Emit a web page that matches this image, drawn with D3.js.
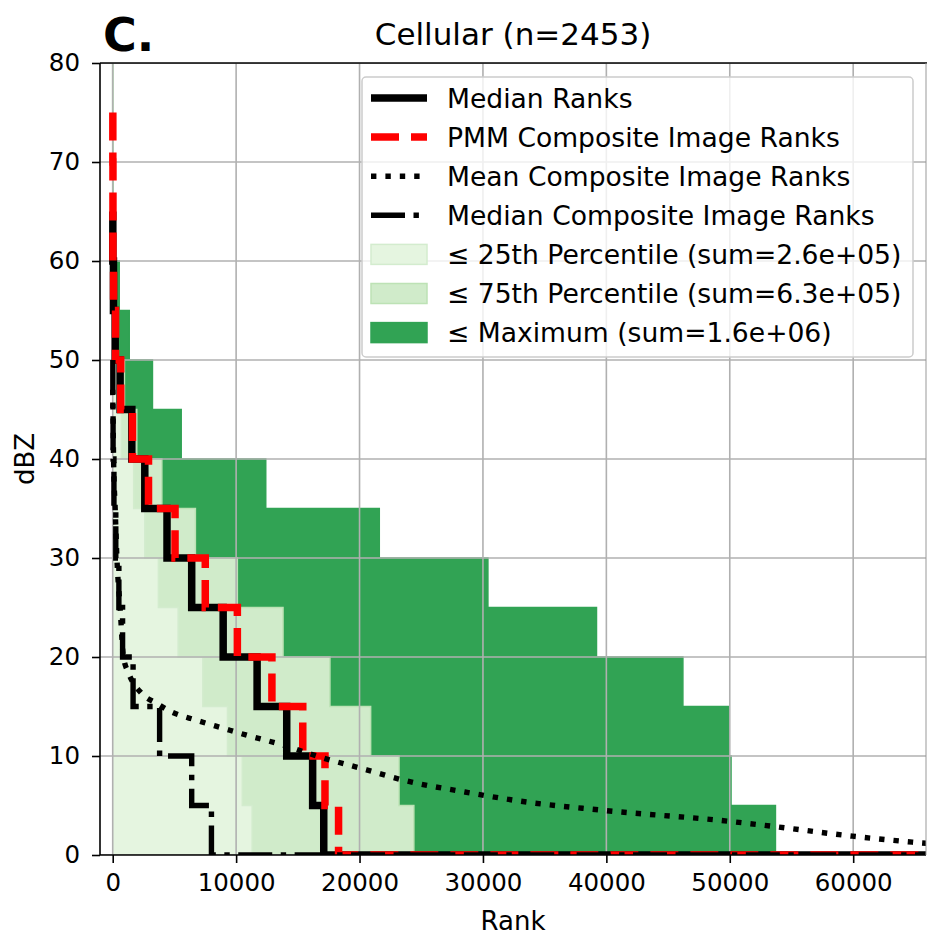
<!DOCTYPE html>
<html>
<head>
<meta charset="utf-8">
<script src="https://cdn.jsdelivr.net/npm/d3@7"></script>
<style>
body { margin: 0; background: #ffffff; }
svg { display: block; font-family: "DejaVu Sans", sans-serif; }
</style>
</head>
<body>
<script>
//dBZ bins, lower edge of each 5 dBZ bin
var binLow = [0, 5, 10, 15, 20, 25, 30, 35, 40, 45, 50, 55, 60, 65, 70, 75];
var binWidth = 5;

//shaded rank ranges per bin
var p25Ranks = [11300, 10500, 9300, 7300, 5300, 3700, 2600, 1700, 700, 350, 100, 30, 0, 0, 0, 0];
var p75Ranks = [24400, 23200, 20900, 17600, 13800, 10100, 6700, 3980, 1950, 950, 350, 100, 0, 0, 0, 0];
var maxRanks = [53700, 50100, 49900, 46200, 39200, 30400, 21600, 12400, 5550, 3220, 1340, 530, 80, 40, 20, 0];

//step lines, one value per bin starting at 0 dBZ
var medianRanks = [17100, 16200, 14100, 11700, 8950, 6400, 4400, 2600, 1550, 600, 200, 60, 10];
var pmmRanks = [18300, 17200, 15400, 12900, 10100, 7500, 5050, 2900, 1600, 650, 230, 70, 20, 20, 10];
var medianCompRanks = [8000, 6400, 3800, 1650, 800, 500, 250, 100, 30, 10];
var tailRank = 70000; //lines run off along 0 dBZ

//mean composite image ranks (smooth curve)
var meanRank = [0, 30, 70, 200, 340, 600, 870, 1280, 2360, 3580, 4520, 6810, 8960, 10860, 13820, 16790, 20570, 24070, 28380, 33240, 39850, 49960, 53460, 59940, 64790, 70000];
var meanDbz = [47, 44, 40, 35, 30, 25, 20, 18.4, 16.3, 15.3, 14.6, 13.6, 12.8, 12.1, 11.1, 9.9, 8.6, 7.4, 6.4, 5.4, 4.5, 3.4, 2.9, 1.9, 1.3, 0.8];

var xTicks = [0, 10000, 20000, 30000, 40000, 50000, 60000];
var yTicks = [0, 10, 20, 30, 40, 50, 60, 70, 80];

var legendLabels = [
    "Median Ranks",
    "PMM Composite Image Ranks",
    "Mean Composite Image Ranks",
    "Median Composite Image Ranks",
    "\u2264 25th Percentile (sum=2.6e+05)",
    "\u2264 75th Percentile (sum=6.3e+05)",
    "\u2264 Maximum (sum=1.6e+06)"
];

//svg size and axes box
var w = 927, h = 935;
var pLeft = 100, pRight = 926, pTop = 63, pBottom = 855;

var svg = d3.select("body")
    .append("svg")
    .attr("width", w)
    .attr("height", h);

var x = d3.scaleLinear()
    .domain([-1030, 65900])
    .range([pLeft, pRight]);

var y = d3.scaleLinear()
    .domain([0, 80])
    .range([pBottom, pTop]);

//clip to the axes box
svg.append("clipPath")
    .attr("id", "plotClip")
    .append("rect")
    .attr("x", pLeft)
    .attr("y", pTop)
    .attr("width", pRight - pLeft)
    .attr("height", pBottom - pTop);

var plot = svg.append("g")
    .attr("clip-path", "url(#plotClip)");

//stepped outline points, from the top bin down to 0 dBZ
function stepPoints(values){
    var pts = [];
    for (var i = values.length - 1; i >= 0; i--){
        pts.push([values[i], binLow[i] + binWidth]);
        pts.push([values[i], binLow[i]]);
    }
    return pts;
}

var area = d3.area()
    .y(function(d){ return y(d[1]); })
    .x0(x(0))
    .x1(function(d){ return x(d[0]); });

var line = d3.line()
    .x(function(d){ return x(d[0]); })
    .y(function(d){ return y(d[1]); });

var smoothLine = d3.line()
    .x(function(d){ return x(d[0]); })
    .y(function(d){ return y(d[1]); })
    .curve(d3.curveMonotoneX);

//shaded bands: maximum, 75th, 25th
var bands = [
    {values: maxRanks, fill: "#31a354", edge: "#31a354"},
    {values: p75Ranks, fill: "#d0ebca", edge: "#bde2b5"},
    {values: p25Ranks, fill: "#e5f5e0", edge: "#d3ecce"}
];

bands.forEach(function(b){
    var pts = stepPoints(b.values);
    plot.append("path")
        .attr("d", area(pts))
        .style("fill", b.fill);
    plot.append("path")
        .attr("d", line(pts))
        .style("fill", "none")
        .style("stroke", b.edge)
        .style("stroke-width", 1.5);
});

//grid
plot.selectAll(".gridX")
    .data(xTicks)
    .enter()
    .append("line")
    .attr("class", "gridX")
    .attr("x1", function(d){ return x(d); })
    .attr("x2", function(d){ return x(d); })
    .attr("y1", pTop)
    .attr("y2", pBottom)
    .style("stroke", "#b0b0b0")
    .style("stroke-width", 1.6);

plot.selectAll(".gridY")
    .data(yTicks)
    .enter()
    .append("line")
    .attr("class", "gridY")
    .attr("x1", pLeft)
    .attr("x2", pRight)
    .attr("y1", function(d){ return y(d); })
    .attr("y2", function(d){ return y(d); })
    .style("stroke", "#b0b0b0")
    .style("stroke-width", 1.6);

//line styles
var styles = [
    {color: "#000", width: 7.5, dash: null},
    {color: "#ff0000", width: 7.5, dash: "28,12"},
    {color: "#000", width: 5.4, dash: "5.4,9"},
    {color: "#000", width: 5.4, dash: "34,8.5,5.4,8.5"}
];

function stepLine(values){
    var pts = stepPoints(values);
    pts.push([tailRank, 0]);
    return line(pts);
}

var curves = [
    stepLine(medianRanks),
    stepLine(pmmRanks),
    smoothLine(meanRank.map(function(r, i){ return [r, meanDbz[i]]; })),
    stepLine(medianCompRanks)
];

curves.forEach(function(d, i){
    plot.append("path")
        .attr("d", d)
        .style("fill", "none")
        .style("stroke", styles[i].color)
        .style("stroke-width", styles[i].width)
        .style("stroke-dasharray", styles[i].dash);
});

//axes
var xAxis = svg.append("g")
    .attr("transform", "translate(0," + pBottom + ")")
    .call(d3.axisBottom(x).tickValues(xTicks).tickSize(8).tickPadding(11).tickFormat(d3.format("d")));

var yAxis = svg.append("g")
    .attr("transform", "translate(" + pLeft + ",0)")
    .call(d3.axisLeft(y).tickValues(yTicks).tickSize(8).tickPadding(12));

[xAxis, yAxis].forEach(function(a){
    a.select(".domain").remove();
    a.selectAll(".tick line")
        .style("stroke", "#000")
        .style("stroke-width", 1.6);
    a.selectAll(".tick text")
        .style("font-family", "DejaVu Sans")
        .style("font-size", "24.5px")
        .style("fill", "#000");
});

//spines
var spines = [
    [pLeft, pTop, pLeft, pBottom],
    [pLeft, pBottom, pRight, pBottom],
    [pLeft, pTop, w, pTop],
    [pRight, pTop, pRight, pBottom]
];
svg.selectAll(".spine")
    .data(spines)
    .enter()
    .append("line")
    .attr("class", "spine")
    .attr("x1", function(d){ return d[0]; })
    .attr("y1", function(d){ return d[1]; })
    .attr("x2", function(d){ return d[2]; })
    .attr("y2", function(d){ return d[3]; })
    .style("stroke", function(d, i){ return i == 3 ? "#999" : "#000"; })
    .style("stroke-width", function(d, i){ return i == 3 ? 1 : 1.6; });

//legend
var legend = svg.append("g")
    .attr("class", "legend");

legend.append("rect")
    .attr("x", 362)
    .attr("y", 77)
    .attr("width", 551)
    .attr("height", 280)
    .attr("rx", 4)
    .style("fill", "#fff")
    .style("fill-opacity", 0.8)
    .style("stroke", "#cccccc")
    .style("stroke-width", 1.5);

var rowY = function(i){ return 98 + i * 39.1; };

legendLabels.forEach(function(label, i){
    if (i < 4){
        legend.append("line")
            .attr("x1", 371)
            .attr("x2", 427)
            .attr("y1", rowY(i))
            .attr("y2", rowY(i))
            .style("stroke", styles[i].color)
            .style("stroke-width", styles[i].width)
            .style("stroke-dasharray", styles[i].dash);
    } else {
        var b = bands[6 - i];
        legend.append("rect")
            .attr("x", 371)
            .attr("y", rowY(i) - 10)
            .attr("width", 56)
            .attr("height", 20)
            .style("fill", b.fill)
            .style("stroke", b.edge)
            .style("stroke-width", 1.5);
    }
    legend.append("text")
        .attr("x", 447)
        .attr("y", rowY(i) + 9.5)
        .style("font-size", "26.6px")
        .text(label);
});

//titles
svg.append("text")
    .attr("x", (pLeft + pRight) / 2)
    .attr("y", 45)
    .attr("text-anchor", "middle")
    .style("font-size", "31px")
    .text("Cellular (n=2453)");

svg.append("text")
    .attr("x", 103)
    .attr("y", 51)
    .style("font-size", "46px")
    .style("font-weight", "bold")
    .text("C.");

svg.append("text")
    .attr("x", (pLeft + pRight) / 2)
    .attr("y", 930)
    .attr("text-anchor", "middle")
    .style("font-size", "26px")
    .text("Rank");

svg.append("text")
    .attr("transform", "translate(34," + y(40) + ") rotate(-90)")
    .attr("text-anchor", "middle")
    .style("font-size", "26px")
    .text("dBZ");
</script>
</body>
</html>
